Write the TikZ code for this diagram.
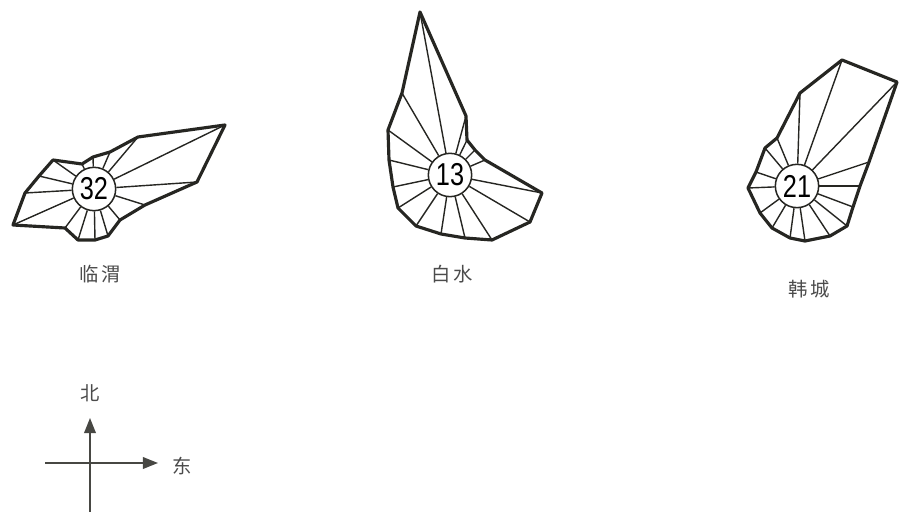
\documentclass[tikz,border=0pt]{standalone}
\usepackage{fontspec}
\usepackage{graphicx}
\usepackage{tikz}
\usetikzlibrary{arrows.meta}
\newfontfamily\cjk{Noto Sans CJK SC}
\newfontfamily\numfont{Liberation Sans}
\definecolor{ink}{RGB}{38,38,34}
\definecolor{labelgray}{RGB}{75,75,75}

\begin{document}
\begin{tikzpicture}[x=0.03cm, y=-0.03cm,
    rim/.style = {ink, line width=2.7pt, line join=round},
    ray/.style = {ink, line width=1.2pt},
    hub/.style = {circle, draw=ink, line width=1.3pt, fill=white,
                  minimum size=1.3cm, inner sep=0pt,
                  font=\numfont\fontsize{27}{27}\selectfont},
    place/.style = {labelgray, font=\cjk\fontsize{16.5}{16.5}\selectfont},
    axis/.style = {ink!85, line width=1.5pt,
                   -{Triangle[length=13pt, width=10pt]}}]
  \useasboundingbox (0,0) rectangle (900,512);

  % linwei
  \node[hub] (lw) at (94,189) {\scalebox{0.8}[1]{32}};
  \foreach \x/\y [count=\i] in {197/182,225/125,138/137,110/152,
      93/157,82/164,53/160,39/176,25/193,13/225,65/228,
      78/240,95/240,108/236,120/220,145/205}
    \coordinate (lw\i) at (\x,\y);
  \draw[rim] (lw1) \foreach \i in {2,...,16} {-- (lw\i)} -- cycle;
  \foreach \i in {1,...,16}
    \draw[ray] (lw) -- (lw\i);
  \node[place] (lwname) at (100,274) {临\,渭};

  % baishui
  \node[hub] (bs) at (450,175) {\scalebox{0.8}[1]{13}};
  \foreach \x/\y [count=\i] in {542/193,485/160,475/150,467/140,
      466/116,420/12,402/93,388/130,389/160,393/187,
      398/208,416/226,441/234,465/238,492/240,530/222}
    \coordinate (bs\i) at (\x,\y);
  \draw[rim] (bs1) \foreach \i in {2,...,16} {-- (bs\i)} -- cycle;
  \foreach \i in {1,...,16}
    \draw[ray] (bs) -- (bs\i);
  \node[place] (bsname) at (452,274) {白\,水};

  % hancheng
  \node[hub] (hc) at (797,186) {\scalebox{0.8}[1]{21}};
  \foreach \x/\y [count=\i] in {860/186,869/162,897/82,842/60,
      800/93,777/138,765/148,756/172,748/188,760/213,
      772/228,790/238,805/241,830/236,847/226,853/207}
    \coordinate (hc\i) at (\x,\y);
  \draw[rim] (hc1) \foreach \i in {2,...,16} {-- (hc\i)} -- cycle;
  \foreach \i in {1,...,16}
    \draw[ray] (hc) -- (hc\i);
  \node[place] (hcname) at (809,289) {韩\,城};

  % compass
  \coordinate (south) at (90,512);
  \coordinate (north) at (90,418);
  \coordinate (west) at (45,463);
  \coordinate (east) at (158,463);
  \draw[axis] (south) -- (north);
  \draw[axis] (west) -- (east);
  \node[place] (bei) at (90,393) {北};
  \node[place] (dong) at (182,466) {东};
\end{tikzpicture}
\end{document}
